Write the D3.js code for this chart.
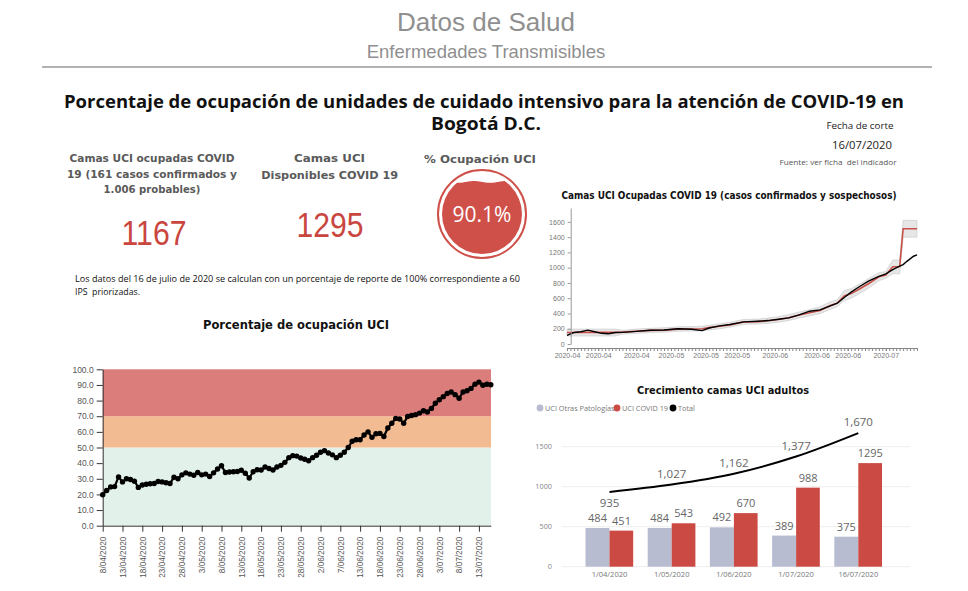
<!DOCTYPE html>
<html><head><meta charset="utf-8">
<script src="https://cdn.jsdelivr.net/npm/d3@7"></script>
<style>body{margin:0;background:#fff}svg{display:block}</style>
</head><body><svg id="c" width="968" height="591"></svg>
<script>
// ================= DATA =================
const kpiOcupadas = 1167;
const kpiDisponibles = 1295;
const kpiPct = 90.1;

// Porcentaje de ocupación UCI (daily)
const occDates = [
"8/04/2020","9/04/2020","10/04/2020","11/04/2020","12/04/2020","13/04/2020","14/04/2020","15/04/2020","16/04/2020","17/04/2020",
"18/04/2020","19/04/2020","20/04/2020","21/04/2020","22/04/2020","23/04/2020","24/04/2020","25/04/2020","26/04/2020","27/04/2020",
"28/04/2020","29/04/2020","30/04/2020",
"1/05/2020","2/05/2020","3/05/2020","4/05/2020","5/05/2020","6/05/2020","7/05/2020","8/05/2020","9/05/2020","10/05/2020",
"11/05/2020","12/05/2020","13/05/2020","14/05/2020","15/05/2020","16/05/2020","17/05/2020","18/05/2020","19/05/2020","20/05/2020",
"21/05/2020","22/05/2020","23/05/2020","24/05/2020","25/05/2020","26/05/2020","27/05/2020","28/05/2020","29/05/2020","30/05/2020","31/05/2020",
"1/06/2020","2/06/2020","3/06/2020","4/06/2020","5/06/2020","6/06/2020","7/06/2020","8/06/2020","9/06/2020","11/06/2020",
"12/06/2020","13/06/2020","14/06/2020","15/06/2020","16/06/2020","17/06/2020","18/06/2020","19/06/2020","20/06/2020","21/06/2020",
"22/06/2020","23/06/2020","24/06/2020","25/06/2020","26/06/2020","27/06/2020","28/06/2020","29/06/2020","30/06/2020",
"1/07/2020","2/07/2020","3/07/2020","4/07/2020","5/07/2020","6/07/2020","7/07/2020","8/07/2020","9/07/2020","10/07/2020",
"11/07/2020","12/07/2020","13/07/2020","14/07/2020","15/07/2020","16/07/2020"];
const occValues = [
19.8,22.5,24.8,25,31.2,28,30,29.5,28.5,24.5,
26,26.5,26.8,27,28.3,28,27.5,27,31,30,
32.5,33.8,33,32.3,34,32.5,33,31.5,33.8,36.3,
38.3,34,34.3,34.5,34.7,35.5,33.5,30.5,34.5,35.8,
35.6,37.5,36.6,35.6,37.5,38.6,40.5,43.5,44.8,44.5,
43.3,42.5,41.5,43.5,45,47,48,46.5,45.3,43.5,
45,47,50,54,55,55,58,60,56.5,58.8,
59,57,62.5,65.5,68.6,68.2,65.5,69.8,70.5,71,
72,73.5,72.7,75,78.3,80.5,82.5,84.5,85.5,83.8,
81.5,85.5,86.3,87.8,90.5,91.8,89.8,90.4,90.1];
const occBands = [0, 50, 70, 100];
const occYTicks = [0,10,20,30,40,50,60,70,80,90,100];
const occTickDates = ["8/04/2020","13/04/2020","18/04/2020","23/04/2020","28/04/2020","3/05/2020","8/05/2020","13/05/2020",
"18/05/2020","23/05/2020","28/05/2020","2/06/2020","7/06/2020","13/06/2020","18/06/2020","23/06/2020","28/06/2020",
"3/07/2020","8/07/2020","13/07/2020"];

// Camas UCI ocupadas COVID 19
const uciDates = ["2020-04-06","2020-04-08","2020-04-10","2020-04-12","2020-04-14","2020-04-16","2020-04-18","2020-04-20",
"2020-04-22","2020-04-26","2020-04-30","2020-05-04","2020-05-08","2020-05-12","2020-05-15","2020-05-17","2020-05-20",
"2020-05-23","2020-05-27","2020-05-31","2020-06-03","2020-06-06","2020-06-09","2020-06-12","2020-06-15","2020-06-18",
"2020-06-21","2020-06-23","2020-06-25","2020-06-27","2020-06-29","2020-07-02","2020-07-05","2020-07-07","2020-07-09",
"2020-07-11","2020-07-12","2020-07-13","2020-07-14","2020-07-15","2020-07-16"];
const uciActual = [114,150,160,182,160,140,135,150,152,165,180,184,200,193,175,210,237,255,290,298,307,325,342,382,430,447,
500,535,610,680,740,825,886,920,975,1020,1040,1080,1115,1150,1167];
const uciModel = [150,150,152,152,152,152,152,152,155,168,178,182,195,197,200,215,232,250,290,293,305,320,345,380,410,440,
505,535,630,660,710,790,880,905,1012,1015,1510,1510,1510,1510,1510];
const uciLow = [105,105,105,105,105,105,105,105,130,140,150,155,168,170,172,185,200,220,258,262,272,285,308,340,368,398,
455,490,570,600,650,730,830,860,920,920,1400,1400,1400,1400,1400];
const uciHigh = [195,195,195,195,195,195,195,195,180,195,205,212,225,228,232,245,265,285,322,326,340,358,385,420,452,485,
555,580,700,725,775,855,935,950,1100,1100,1620,1620,1620,1620,1620];
const uciYTicks = [0,200,400,600,800,1000,1200,1400,1600];
const uciTickDates = ["2020-04-06","2020-04-15","2020-04-26","2020-05-06","2020-05-16","2020-05-25","2020-06-05",
"2020-06-17","2020-06-26","2020-07-07"];

// Crecimiento camas UCI adultos
const growthCategories = ["1/04/2020","1/05/2020","1/06/2020","1/07/2020","16/07/2020"];
const growthOtras = [484,484,492,389,375];
const growthCovid = [451,543,670,988,1295];
const growthTotal = [935,1027,1162,1377,1670];
const growthYTicks = [0,500,1000,1500];
const growthLegend = ["UCI Otras Patologías","UCI COVID 19","Total"];

// ================= DRAW =================
const svg = d3.select('#c');
const F = '"Liberation Sans", Arial, sans-serif';
const FB = '"DejaVu Sans", Verdana, sans-serif';
const FO = '"Open Sans", sans-serif';
const RED = '#c9463f';

function label(g, x, y, s, o = {}) {
  const t = g.append('text').attr('x', x).attr('y', y).text(s)
    .attr('font-family', o.ff || F).attr('font-size', o.fs || 10)
    .attr('fill', o.fill || '#333').attr('text-anchor', o.anchor || 'middle')
    .style('white-space', 'pre');
  if (o.fw) t.attr('font-weight', o.fw);
  if (o.tl) t.attr('textLength', o.tl).attr('lengthAdjust', 'spacingAndGlyphs');
  return t;
}

// Header
label(svg, 486, 31, 'Datos de Salud', {fs: 26, fill: '#8f8f8f'});
label(svg, 486, 58, 'Enfermedades Transmisibles', {fs: 18.5, fill: '#8f8f8f'});
svg.append('line').attr('x1', 42).attr('x2', 932).attr('y1', 67).attr('y2', 67)
  .attr('stroke', '#b3b3b3').attr('stroke-width', 2);

label(svg, 484, 108, 'Porcentaje de ocupación de unidades de cuidado intensivo para la atención de COVID-19 en',
  {fs: 17, fw: 'bold', fill: '#111', ff: FO, tl: 840});
label(svg, 486, 130, 'Bogotá D.C.', {fs: 17, fw: 'bold', fill: '#111', ff: FO, tl: 110});

label(svg, 860, 129, 'Fecha de corte', {fs: 9.5, fill: '#222', ff: FO, tl: 67});
label(svg, 862, 149, '16/07/2020', {fs: 11, fill: '#222', ff: FO, tl: 60});
label(svg, 838, 164.5, 'Fuente: ver ficha  del indicador', {fs: 6.5, fill: '#555', ff: FO, tl: 117});

// KPIs
const kc = {fs: 11, fw: 'bold', ff: FB, fill: '#5a5a5a'};
label(svg, 152, 162, 'Camas UCI ocupadas COVID', {...kc, tl: 165});
label(svg, 152, 178, '19 (161 casos confirmados y', {...kc, tl: 170});
label(svg, 152, 193, '1.006 probables)', {...kc, tl: 97});
label(svg, 154, 245, String(kpiOcupadas), {fs: 35, fill: RED, ff: F, tl: 65});

label(svg, 329.5, 162, 'Camas UCI', {...kc, tl: 71});
label(svg, 329.7, 179, 'Disponibles COVID 19', {...kc, tl: 137});
label(svg, 330, 237, String(kpiDisponibles), {fs: 35, fill: RED, ff: F, tl: 67});

label(svg, 480, 163, '% Ocupación UCI', {...kc, tl: 112});

// Liquid gauge
(function(){
  const cx = 482, cy = 214, rOut = 44, rIn = 40;
  const g = svg.append('g').attr('transform', `translate(${cx},${cy})`);
  const lvl = rIn - (kpiPct / 100) * 2 * rIn;
  const pts = d3.range(-rIn - 4, rIn + 5, 1).map(x => [x, lvl + 0.9 * Math.sin(x / (2 * rIn) * 2 * Math.PI * 2.5)]);
  const p = d3.path();
  p.moveTo(pts[0][0], pts[0][1]);
  pts.forEach(d => p.lineTo(d[0], d[1]));
  p.lineTo(rIn + 5, rIn + 5); p.lineTo(-rIn - 5, rIn + 5); p.closePath();
  svg.append('defs').append('clipPath').attr('id', 'wave').append('path').attr('d', p.toString());
  g.append('circle').attr('r', rOut).attr('fill', 'none').attr('stroke', '#cf4f49').attr('stroke-width', 2);
  g.append('circle').attr('r', rIn).attr('fill', '#cf4f49').attr('clip-path', 'url(#wave)');
  g.append('text').attr('y', 8).attr('text-anchor', 'middle').attr('font-family', FO).attr('font-size', 21)
    .attr('fill', '#fff').text(d3.format('.1f')(kpiPct) + '%');
})();

label(svg, 75, 282, 'Los datos del 16 de julio de 2020 se calculan con un porcentaje de reporte de 100% correspondiente a 60',
  {fs: 9, fill: '#111', ff: FO, anchor: 'start', tl: 445});
label(svg, 75, 295, 'IPS  priorizadas.', {fs: 9, fill: '#111', ff: FO, anchor: 'start', tl: 65});

// ===== Bottom-left: Porcentaje de ocupación UCI =====
(function(){
  label(svg, 296, 329, 'Porcentaje de ocupación UCI', {fs: 11.5, fw: 'bold', ff: FB, fill: '#111', tl: 186});
  const x = d3.scalePoint().domain(occDates).range([102.7, 490.8]);
  const y = d3.scaleLinear().domain([0, 100]).range([525.7, 369.3]);
  const bandColors = ['#e2f2ea', '#f3bb91', '#db7d7a'];
  const g = svg.append('g');
  for (let i = 0; i < occBands.length - 1; i++) {
    g.append('rect').attr('x', 102.7).attr('width', 491 - 102.7)
      .attr('y', y(occBands[i + 1])).attr('height', y(occBands[i]) - y(occBands[i + 1]))
      .attr('fill', bandColors[i]);
  }
  const ya = g.append('g').attr('transform', 'translate(102.7,0)')
    .call(d3.axisLeft(y).tickValues(occYTicks).tickFormat(d3.format('.1f')).tickSize(6).tickSizeOuter(0));
  ya.selectAll('text').attr('font-family', F).attr('font-size', 8.5).attr('fill', '#555');
  ya.selectAll('line,path').attr('stroke', '#333');
  const xa = g.append('g').attr('transform', 'translate(0,525.7)')
    .call(d3.axisBottom(x).tickValues(occTickDates).tickSize(6).tickSizeOuter(0));
  xa.selectAll('text').attr('font-family', F).attr('font-size', 8.2).attr('fill', '#555')
    .attr('transform', 'rotate(-90)').attr('x', -11).attr('y', 0).attr('dy', '0.33em').attr('text-anchor', 'end');
  xa.selectAll('line,path').attr('stroke', '#333');
  const line = d3.line().x((d, i) => x(occDates[i])).y(d => y(d));
  g.append('path').datum(occValues).attr('d', line).attr('fill', 'none').attr('stroke', '#000').attr('stroke-width', 2.2);
  g.selectAll('circle.dot').data(occValues).join('circle').attr('class', 'dot')
    .attr('cx', (d, i) => x(occDates[i])).attr('cy', d => y(d)).attr('r', 2.7).attr('fill', '#000');
})();

// ===== Top-right: Camas UCI ocupadas =====
(function(){
  label(svg, 729, 199, 'Camas UCI Ocupadas COVID 19 (casos confirmados y sospechosos)', {fs: 10, fw: 'bold', ff: FB, fill: '#111', tl: 335});
  const parse = d3.timeParse('%Y-%m-%d');
  const dates = uciDates.map(parse);
  const x = d3.scaleTime().domain(d3.extent(dates)).range([567, 917]);
  const yMax = d3.max(uciHigh) * 1.1;
  const y = d3.scaleLinear().domain([0, yMax]).range([344, 208]);
  const g = svg.append('g');
  const area = d3.area().x((d, i) => x(dates[i])).y0((d, i) => y(uciLow[i])).y1((d, i) => y(uciHigh[i]));
  g.append('path').datum(uciLow).attr('d', area).attr('fill', '#e6e6e6').attr('stroke', '#cdcdcd').attr('stroke-width', 0.7);
  const line = arr => d3.line().x((d, i) => x(dates[i])).y(d => y(d))(arr);
  g.append('path').attr('d', line(uciModel)).attr('fill', 'none').attr('stroke', '#c9504a').attr('stroke-width', 1.6);
  g.append('path').attr('d', line(uciActual)).attr('fill', 'none').attr('stroke', '#000').attr('stroke-width', 1.4);

  const ya = g.append('g').attr('transform', 'translate(570.7,0)')
    .call(d3.axisLeft(y).tickValues(uciYTicks).tickFormat(d3.format('d')).tickSize(3).tickSizeOuter(0));
  ya.selectAll('text').attr('font-family', F).attr('font-size', 7).attr('fill', '#777');
  ya.selectAll('line,path').attr('stroke', '#999');
  const xm = g.append('g').attr('transform', 'translate(0,348)')
    .call(d3.axisBottom(x).ticks(d3.timeDay.every(1)).tickFormat('').tickSize(3).tickSizeOuter(0));
  xm.selectAll('line,path').attr('stroke', '#888');
  const xl = g.append('g').attr('transform', 'translate(0,348)')
    .call(d3.axisBottom(x).tickValues(uciTickDates.map(parse)).tickFormat(d3.timeFormat('%Y-%m')).tickSize(3).tickSizeOuter(0));
  xl.select('.domain').remove();
  xl.selectAll('line').attr('stroke', '#888');
  xl.selectAll('text').attr('font-family', F).attr('font-size', 7).attr('fill', '#777').attr('y', 5);
})();

// ===== Bottom-right: Crecimiento camas UCI adultos =====
(function(){
  label(svg, 723, 394, 'Crecimiento camas UCI adultos', {fs: 10.5, fw: 'bold', ff: FB, fill: '#111', tl: 172});
  const colors = ['#b8bcd0', '#cc4a44', '#000'];
  const lx = [540, 617, 673];
  growthLegend.forEach((s, i) => {
    svg.append('circle').attr('cx', lx[i]).attr('cy', 408).attr('r', 3.4).attr('fill', colors[i]);
    label(svg, lx[i] + 5, 410.7, s, {fs: 7.3, fill: '#777', anchor: 'start', ff: FO});
  });
  const x = d3.scalePoint().domain(growthCategories).range([578.4, 889.4]).padding(0.5);
  const y = d3.scaleLinear().domain([0, 1500]).range([566.7, 446.7]);
  const g = svg.append('g');
  growthYTicks.forEach(t => {
    g.append('line').attr('x1', 562).attr('x2', 910).attr('y1', y(t)).attr('y2', y(t)).attr('stroke', '#eeeeee');
    label(g, 552, y(t) + 2.5, String(t), {fs: 7.3, fill: '#888', anchor: 'end', ff: FO});
  });
  const bw = 24;
  growthCategories.forEach((c, i) => {
    const cx = x(c);
    g.append('rect').attr('x', cx - bw).attr('width', bw).attr('y', y(growthOtras[i])).attr('height', y(0) - y(growthOtras[i])).attr('fill', colors[0]);
    g.append('rect').attr('x', cx).attr('width', bw - 0.3).attr('y', y(growthCovid[i])).attr('height', y(0) - y(growthCovid[i])).attr('fill', colors[1]);
    label(g, cx - bw / 2, y(growthOtras[i]) - 6, String(growthOtras[i]), {fs: 11, fill: '#666', ff: FO});
    label(g, cx + bw / 2, y(growthCovid[i]) - 6, String(growthCovid[i]), {fs: 11, fill: '#666', ff: FO});
    label(g, cx, 577, c, {fs: 7.5, fill: '#777', ff: FO});
  });
  const line = d3.line().x((d, i) => x(growthCategories[i])).y(d => y(d)).curve(d3.curveMonotoneX);
  g.append('path').datum(growthTotal).attr('d', line).attr('fill', 'none').attr('stroke', '#000').attr('stroke-width', 2);
  const fmt = d3.format(',');
  growthTotal.forEach((v, i) => {
    const cx = x(growthCategories[i]);
    const yy = i === 0 ? y(v) + 15 : y(v) - 7;
    label(g, cx, yy, fmt(v), {fs: 11.5, fill: '#666', ff: FO});
  });
})();
</script>
</body></html>
